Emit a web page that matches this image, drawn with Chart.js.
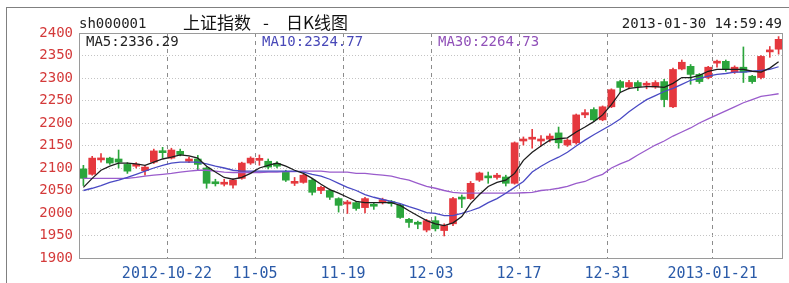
<!DOCTYPE html>
<html>
<head>
<meta charset="utf-8">
<script src="https://cdn.jsdelivr.net/npm/chart.js@4.4.1/dist/chart.umd.min.js"></script>
<style>
html, body { margin: 0; padding: 0; background: #fff; }
#wrap { position: relative; width: 789px; height: 283px; overflow: hidden; }
#frame { position: absolute; left: 6px; top: 7px; width: 800px; height: 300px; border-top: 1px solid #808080; border-left: 1px solid #808080; }
canvas { position: absolute; left: 0; top: 0; }
.t { position: absolute; font-family: "DejaVu Sans Mono", monospace; font-size: 14px; line-height: 1; white-space: nowrap; }
.cn { font-family: "Noto Sans CJK SC", sans-serif; font-size: 17px; color: #111; top: 13px; }
</style>
</head>
<body>
<div id="wrap">
  <div id="frame"></div>
  <canvas id="kline" width="789" height="283"></canvas>
  <div class="t" style="left:79px;top:16px;color:#222">sh000001</div>
  <div class="t cn" style="left:183px">上证指数</div>
  <div class="t cn" style="left:263px">-</div>
  <div class="t cn" style="left:286px">日K线图</div>
  <div class="t" style="right:7px;top:16px;color:#222">2013-01-30 14:59:49</div>
  <div class="t" style="left:86px;top:34px;color:#222">MA5:2336.29</div>
  <div class="t" style="left:262px;top:34px;color:#4848b8">MA10:2324.77</div>
  <div class="t" style="left:438px;top:34px;color:#9050b8">MA30:2264.73</div>
</div>
<script>
// trading days shown (80 candles)
const dates = [
  '2012-10-08','2012-10-09','2012-10-10','2012-10-11','2012-10-12','2012-10-15','2012-10-16','2012-10-17','2012-10-18','2012-10-19',
  '2012-10-22','2012-10-23','2012-10-24','2012-10-25','2012-10-26','2012-10-29','2012-10-30','2012-10-31','2012-11-01','2012-11-02',
  '2012-11-05','2012-11-06','2012-11-07','2012-11-08','2012-11-09','2012-11-12','2012-11-13','2012-11-14','2012-11-15','2012-11-16',
  '2012-11-19','2012-11-20','2012-11-21','2012-11-22','2012-11-23','2012-11-26','2012-11-27','2012-11-28','2012-11-29','2012-11-30',
  '2012-12-03','2012-12-04','2012-12-05','2012-12-06','2012-12-07','2012-12-10','2012-12-11','2012-12-12','2012-12-13','2012-12-14',
  '2012-12-17','2012-12-18','2012-12-19','2012-12-20','2012-12-21','2012-12-24','2012-12-25','2012-12-26','2012-12-27','2012-12-28',
  '2012-12-31','2013-01-04','2013-01-07','2013-01-08','2013-01-09','2013-01-10','2013-01-11','2013-01-14','2013-01-15','2013-01-16',
  '2013-01-17','2013-01-18','2013-01-21','2013-01-22','2013-01-23','2013-01-24','2013-01-25','2013-01-28','2013-01-29','2013-01-30'
];

const openV = [
  2098,2086,2118,2122,2120,2108,2104,2094,2113,2138, 2122,2137,2115,2120,2100,2068,2064,2062,2077,2111,
  2117,2115,2110,2091,2066,2068,2073,2050,2050,2032, 2020,2023,2012,2018,2025,2024,2017,1986,1978,1962,
  1983,1961,1976,2035,2032,2073,2081,2079,2080,2066, 2160,2164,2160,2164,2178,2151,2156,2218,2230,2207,
  2236,2292,2280,2290,2284,2280,2292,2236,2320,2326, 2308,2301,2333,2337,2313,2324,2304,2301,2358,2364
];
const highV = [
  2106,2126,2132,2124,2140,2112,2112,2105,2142,2146, 2144,2142,2124,2128,2102,2075,2075,2076,2113,2125,
  2129,2120,2114,2095,2079,2086,2077,2060,2053,2034, 2028,2026,2035,2022,2033,2028,2020,1988,1982,1986,
  1992,1976,2035,2040,2070,2091,2091,2088,2084,2158, 2169,2186,2172,2176,2191,2165,2220,2230,2234,2238,
  2276,2295,2295,2294,2292,2294,2297,2322,2340,2330, 2310,2326,2340,2340,2327,2369,2306,2350,2370,2392
];
const lowV = [
  2061,2084,2113,2108,2100,2088,2100,2084,2110,2122, 2120,2127,2112,2096,2055,2060,2060,2055,2075,2108,
  2106,2098,2100,2070,2061,2066,2040,2043,2030,2002, 1999,2006,2000,2008,2020,2015,1988,1968,1965,1958,
  1960,1949,1972,2012,2030,2070,2066,2075,2060,2064, 2151,2144,2149,2158,2144,2148,2153,2212,2204,2205,
  2234,2268,2276,2272,2276,2277,2236,2234,2318,2286, 2288,2298,2324,2315,2310,2290,2288,2298,2346,2353
];
const closeV = [
  2077,2122,2122,2111,2113,2093,2107,2102,2138,2134, 2140,2130,2120,2108,2066,2065,2068,2073,2111,2122,
  2121,2102,2104,2073,2069,2084,2046,2057,2035,2017, 2024,2010,2032,2015,2029,2021,1990,1979,1975,1983,
  1965,1972,2032,2031,2066,2089,2078,2084,2066,2156, 2163,2167,2163,2171,2156,2162,2218,2223,2207,2236,
  2274,2279,2290,2281,2287,2290,2252,2319,2335,2308, 2292,2324,2336,2320,2324,2313,2292,2348,2362,2386
];

const ma5 = [
  2057,2077,2095,2104,2111,2111,2109,2106,2113,2120, 2124,2129,2127,2122,2104,2091,2079,2075,2079,2088,
  2100,2106,2111,2104,2095,2088,2077,2064,2052,2044, 2035,2026,2023,2023,2023,2023,2017,2005,1994,1983,
  1976,1972,1978,1992,2021,2041,2059,2068,2073,2088, 2117,2135,2149,2162,2165,2167,2180,2191,2203,2218,
  2241,2268,2277,2279,2281,2281,2279,2288,2301,2301, 2306,2315,2319,2319,2319,2319,2315,2313,2322,2336
];
const ma10 = [
  2050,2055,2061,2068,2073,2079,2086,2093,2100,2106, 2111,2113,2113,2113,2109,2104,2100,2095,2093,2093,
  2093,2093,2093,2093,2093,2091,2086,2082,2075,2066, 2057,2050,2041,2035,2030,2026,2021,2014,2008,2001,
  1999,1994,1994,1999,2005,2012,2023,2032,2044,2057, 2070,2091,2104,2115,2124,2135,2149,2162,2174,2185,
  2196,2209,2225,2239,2252,2261,2270,2277,2286,2295, 2299,2304,2308,2310,2313,2313,2315,2317,2319,2325
];
const ma30 = [
  2077,2077,2077,2077,2077,2077,2079,2082,2084,2086, 2088,2091,2093,2095,2095,2093,2091,2090,2090,2090,
  2090,2091,2091,2092,2092,2093,2093,2093,2091,2091, 2091,2088,2088,2086,2084,2082,2077,2073,2066,2059,
  2055,2050,2046,2044,2044,2044,2044,2044,2044,2044, 2045,2046,2050,2052,2055,2059,2066,2070,2079,2086,
  2100,2109,2117,2129,2140,2151,2160,2171,2180,2189, 2200,2209,2218,2227,2236,2245,2252,2259,2262,2265
];

const tickDates = ['2012-10-22','2012-11-05','2012-11-19','2012-12-03','2012-12-17','2012-12-31','2013-01-21'];
const tickLabels = ['2012-10-22','11-05','11-19','12-03','12-17','12-31','2013-01-21'];

const RED = '#e5383e', GREEN = '#2ba53c';
const candleColor = ctx => closeV[ctx.dataIndex] >= openV[ctx.dataIndex] ? RED : GREEN;

// gray box round the plot area
const plotFrame = {
  id: 'plotFrame',
  afterDraw(chart) {
    const { ctx, chartArea: a } = chart;
    ctx.save();
    ctx.strokeStyle = '#9a9a9a';
    ctx.lineWidth = 1;
    ctx.strokeRect(Math.round(a.left) + 0.5, Math.round(a.top) + 0.5, Math.round(a.right - a.left) - 1, Math.round(a.bottom - a.top));
    ctx.restore();
  }
};

new Chart(document.getElementById('kline'), {
  type: 'bar',
  data: {
    labels: dates,
    datasets: [
      { type: 'line', data: ma5, borderColor: '#1e1e1e', borderWidth: 1.3, pointRadius: 0, tension: 0, order: 0 },
      { type: 'line', data: ma10, borderColor: '#4a4ac4', borderWidth: 1.3, pointRadius: 0, tension: 0, order: 1 },
      { type: 'line', data: ma30, borderColor: '#9a5ccc', borderWidth: 1.3, pointRadius: 0, tension: 0, order: 2 },
      { data: openV.map((o, i) => [o, closeV[i]]), backgroundColor: candleColor, barThickness: 7, minBarLength: 2, grouped: false, order: 3 },
      { data: lowV.map((l, i) => [l, highV[i]]), backgroundColor: candleColor, barThickness: 1, grouped: false, order: 4 }
    ]
  },
  options: {
    responsive: false,
    animation: false,
    layout: { padding: { left: 0, right: 6, top: 33, bottom: 0 } },
    plugins: { legend: { display: false }, tooltip: { enabled: false } },
    scales: {
      x: {
        offset: true,
        afterFit: s => { s.height = 25; },
        grid: {
          offset: true,
          drawTicks: false,
          color: ctx => tickDates.includes(dates[ctx.index]) ? '#8c8c8c' : 'rgba(0,0,0,0)'
        },
        border: { display: false, dash: [4, 4] },
        ticks: {
          autoSkip: false, maxRotation: 0, minRotation: 0, padding: 7, labelOffset: -4.4,
          color: '#2a5aa8',
          font: { family: 'DejaVu Sans Mono', size: 15 },
          callback: (v, i) => {
            const k = tickDates.indexOf(dates[i]);
            return k >= 0 ? tickLabels[k] : '';
          }
        }
      },
      y: {
        min: 1900, max: 2400,
        afterFit: s => { s.width = 79; },
        grid: { color: '#c4c4c4', drawTicks: false },
        border: { display: false, dash: [1, 2] },
        ticks: {
          stepSize: 50, padding: 6,
          color: '#d43a3a',
          font: { family: 'DejaVu Sans Mono', size: 14 },
          callback: v => String(v)
        }
      }
    }
  },
  plugins: [plotFrame]
});
</script>
</body>
</html>
